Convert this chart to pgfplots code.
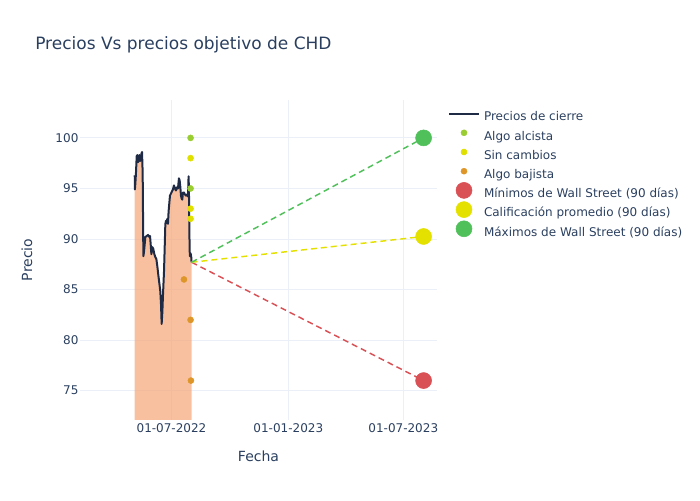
\documentclass[border=0pt]{standalone}
\usepackage{fontspec}
\setmainfont{DejaVu Sans}
\usepackage{pgfplots}
\pgfplotsset{compat=1.18}
\definecolor{txt}{HTML}{2A3F5F}
\definecolor{gridc}{HTML}{EBF0F8}
\definecolor{linec}{HTML}{1F2A44}
\definecolor{fillc}{RGB}{246,165,120}
\definecolor{upc}{RGB}{154,205,50}
\definecolor{neuc}{RGB}{224,224,0}
\definecolor{downc}{RGB}{222,150,40}
\definecolor{lowc}{RGB}{217,80,85}
\definecolor{avgc}{RGB}{228,225,0}
\definecolor{highc}{RGB}{80,192,90}
\pgfplotstableread{
day price
-57.9 96.3
-57.7 94.9
-56.9 95.5
-55.9 96.6
-54.8 98.2
-53.7 98.3
-52.7 97.6
-51.6 97.9
-50.6 98.3
-49.6 97.7
-48.5 98.0
-47.5 98.4
-46.4 98.6
-45.4 96.5
-44.8 92.0
-44.3 88.3
-43.2 88.8
-42.2 89.5
-41.2 90.2
-39.0 90.3
-36.9 90.4
-34.8 90.2
-33.8 90.3
-32.7 89.4
-31.7 88.5
-30.1 89.2
-28.6 89.0
-27.0 88.5
-25.4 88.2
-23.8 88.0
-22.3 87.3
-20.7 86.4
-19.1 85.6
-17.6 84.8
-16.5 83.5
-15.5 81.6
-14.4 82.8
-13.4 84.5
-11.8 86.8
-10.8 89.0
-9.7 91.5
-8.7 91.8
-7.6 91.6
-6.6 92.0
-5.6 91.5
-4.5 92.8
-3.5 93.5
-2.4 94.3
-0.8 94.5
0.7 94.7
2.3 94.9
3.9 95.3
5.4 95.0
7.0 94.8
8.6 95.1
10.2 95.0
11.7 96.0
12.8 95.8
13.8 95.2
14.9 94.3
15.9 94.0
17.0 93.9
18.0 94.6
19.6 94.6
21.2 94.4
22.7 94.3
24.3 94.4
25.9 94.2
26.9 96.2
27.4 95.0
27.9 92.5
28.5 89.0
29.0 88.3
30.0 88.6
31.1 88.2
31.6 87.7
}\prices
\begin{document}
\begin{tikzpicture}
\useasboundingbox (0,0) rectangle (525pt,375pt);
\node[anchor=base west, font=\fontsize{12.75}{15}\selectfont, text=txt, inner sep=0pt] at (26.25pt,337.5pt) {Precios Vs precios objetivo de CHD};
\begin{axis}[
  at={(60pt,60pt)}, anchor=south west,
  scale only axis, width=267.75pt, height=240pt,
  xmin=-144.1, xmax=418.1, ymin=72.1, ymax=103.75,
  axis line style={draw=none}, tick style={draw=none},
  grid=major, major grid style={gridc, line width=0.75pt},
  xtick={0,184,365}, xticklabels={01-07-2022,01-01-2023,01-07-2023},
  ytick={75,80,85,90,95,100},
  /pgf/number format/assume math mode=true,
  ticklabel style={font=\fontsize{9}{11}\selectfont, text=txt},
  xticklabel style={anchor=north, inner sep=0pt, yshift=-2.25pt},
  yticklabel style={anchor=east, inner sep=0pt, xshift=-1pt},
  xlabel={Fecha}, ylabel={Precio},
  label style={font=\fontsize{10.5}{12}\selectfont, text=txt},
  xlabel style={at={(axis description cs:0.5,-0.1125)}, anchor=center},
  ylabel style={at={(axis description cs:-0.1485,0.5)}, anchor=center},
  legend style={draw=none, fill=none, inner sep=0pt, outer sep=0pt,
    at={(axis description cs:1.0336,0.970)}, anchor=north west,
    font=\fontsize{9}{11}\selectfont, text=txt,
    nodes={inner sep=0pt, text height=7pt, text depth=2pt},
    column sep=3.75pt, row sep=3.9pt},
  legend cell align=left,
  clip=true,
]
\addplot[draw=none, fill=fillc, fill opacity=0.7, forget plot] table[x=day,y=price] {\prices} \closedcycle;
\addplot[linec, line width=1.5pt, line join=round,
  legend image code/.code={\path[draw=none, fill=none] (0pt,0pt) rectangle (22.5pt,6pt); \draw[linec, line width=1.5pt, overlay] (0pt,3pt) -- (22.5pt,3pt);}]
  table[x=day,y=price] {\prices};
\addlegendentry{Precios de cierre}
\addplot[lowc, line width=1.1pt, dash pattern=on 4.5pt off 3pt, forget plot] coordinates {(31.6,87.7) (397,76)};
\addplot[avgc, line width=1.1pt, dash pattern=on 4.5pt off 3pt, forget plot] coordinates {(31.6,87.7) (397,90.25)};
\addplot[highc, line width=1.1pt, dash pattern=on 4.5pt off 3pt, forget plot] coordinates {(31.6,87.7) (397,100)};
\addplot[only marks, mark=*, mark size=2.25pt, color=upc, mark options={draw=none, fill=upc},
  legend image code/.code={\path[draw=none, fill=none] (0pt,0pt) rectangle (22.5pt,6pt); \fill[upc, overlay] (11.25pt,3pt) circle[radius=2.25pt];}]
  coordinates {(30.0,100) (30.0,95)};
\addlegendentry{Algo alcista}
\addplot[only marks, mark=*, mark size=2.25pt, color=neuc, mark options={draw=none, fill=neuc},
  legend image code/.code={\path[draw=none, fill=none] (0pt,0pt) rectangle (22.5pt,6pt); \fill[neuc, overlay] (11.25pt,3pt) circle[radius=2.25pt];}]
  coordinates {(30.0,98) (30.0,93) (30.0,92)};
\addlegendentry{Sin cambios}
\addplot[only marks, mark=*, mark size=2.25pt, color=downc, mark options={draw=none, fill=downc},
  legend image code/.code={\path[draw=none, fill=none] (0pt,0pt) rectangle (22.5pt,6pt); \fill[downc, overlay] (11.25pt,3pt) circle[radius=2.25pt];}]
  coordinates {(19.6,86) (30.0,82) (30.6,76)};
\addlegendentry{Algo bajista}
\addplot[only marks, mark=*, mark size=6pt, color=lowc, mark options={draw=none, fill=lowc},
  legend image code/.code={\path[draw=none, fill=none] (0pt,0pt) rectangle (22.5pt,6pt); \fill[lowc, overlay] (11.25pt,3pt) circle[radius=6pt];}]
  coordinates {(397,76)};
\addlegendentry{Mínimos de Wall Street (90 días)}
\addplot[only marks, mark=*, mark size=6pt, color=avgc, mark options={draw=none, fill=avgc},
  legend image code/.code={\path[draw=none, fill=none] (0pt,0pt) rectangle (22.5pt,6pt); \fill[avgc, overlay] (11.25pt,3pt) circle[radius=6pt];}]
  coordinates {(397,90.25)};
\addlegendentry{Calificación promedio (90 días)}
\addplot[only marks, mark=*, mark size=6pt, color=highc, mark options={draw=none, fill=highc},
  legend image code/.code={\path[draw=none, fill=none] (0pt,0pt) rectangle (22.5pt,6pt); \fill[highc, overlay] (11.25pt,3pt) circle[radius=6pt];}]
  coordinates {(397,100)};
\addlegendentry{Máximos de Wall Street (90 días)}
\end{axis}
\end{tikzpicture}
\end{document}
